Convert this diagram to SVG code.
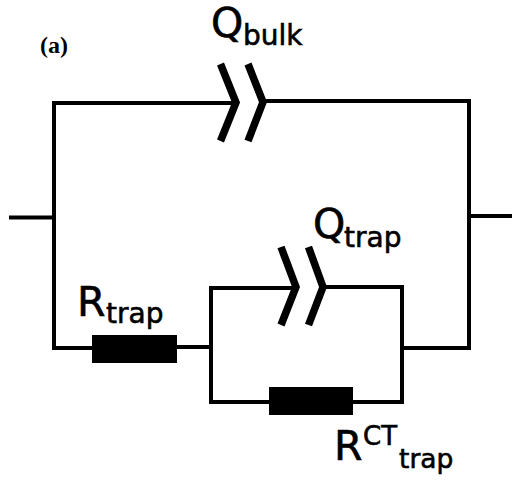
<svg xmlns="http://www.w3.org/2000/svg" width="513" height="484" viewBox="0 0 513 484">
<style>
.w{fill:none;stroke:#000;stroke-width:4;stroke-linejoin:miter}
.c{fill:none;stroke:#000;stroke-width:7.500;stroke-linejoin:miter;stroke-linecap:butt}
.r{fill:#000}
.t{font-family:"DejaVu Sans",Verdana,sans-serif;fill:#000;stroke:#000;stroke-width:.6}
.b{font-size:41px}
.s{font-size:28px}
.s2{font-size:26.500px}
.u{font-size:26px}
.a{font-family:"Liberation Serif","Times New Roman",serif;font-weight:bold;font-size:24px;fill:#000}
</style>
<rect width="513" height="484" fill="#fff"/>
<g id="connectors">
<path class="w" d="M9 217.500H54"/>
<path class="w" d="M469 216H512"/>
<path class="w" d="M234 103H54V348H92"/>
<path class="w" d="M264 101H469V348H402"/>
<path class="w" d="M177 347H211"/>
<path class="w" d="M294 288H211V402H269"/>
<path class="w" d="M324 287H402V402H353"/>
</g>
<g id="q-bulk">
<path class="c" d="M220.500 64L236 102.500L220.500 141"/>
<path class="c" d="M248 64L263 102L248 141"/>
<text class="t b" x="211" y="37">Q</text><text class="t s" x="243" y="45">bulk</text>
</g>
<g id="q-trap">
<path class="c" d="M281 247L296 287L281 325"/>
<path class="c" d="M308.500 247L323 287L308.500 325"/>
<text class="t b" x="313" y="238">Q</text><text class="t s" x="344" y="247">trap</text>
</g>
<g id="r-trap">
<rect class="r" x="92" y="335" width="85" height="28"/>
<text class="t b" x="77" y="316">R</text><text class="t s" x="106" y="323">trap</text>
</g>
<g id="r-ct">
<rect class="r" x="269" y="387" width="84" height="28"/>
<text class="t b" x="334" y="460">R</text><text class="t u" x="363" y="445">CT</text><text class="t s2" x="399" y="468">trap</text>
</g>
<text id="label-a" class="a" x="40" y="53">(a)</text>
</svg>
